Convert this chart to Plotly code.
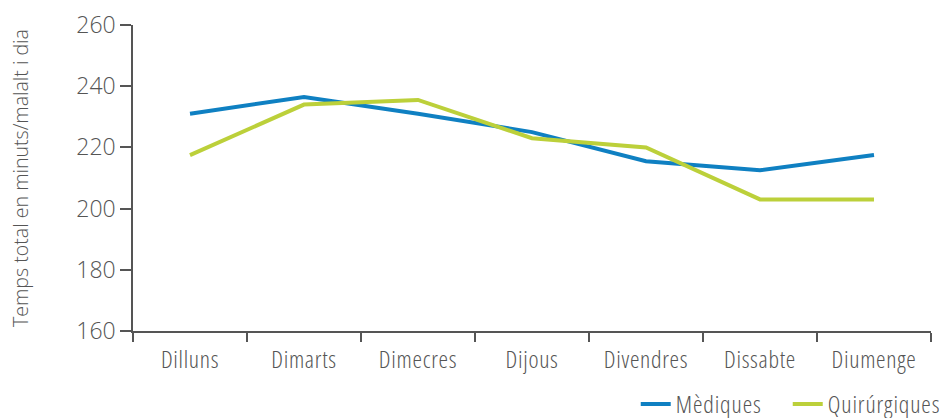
import plotly.graph_objects as go

days = ["Dilluns", "Dimarts", "Dimecres", "Dijous", "Divendres", "Dissabte", "Diumenge"]
mediques = [231, 236.5, 231, 225, 215.5, 212.5, 217.5]
quirurgiques = [217.5, 234, 235.5, 223, 220, 203, 203]
y_ticks = [160, 180, 200, 220, 240, 260]

FONT = "Open Sans, sans-serif"
AXIS = "#555555"
TEXT = "#555555"

fig = go.Figure()
fig.add_trace(go.Scatter(x=days, y=mediques, name="Mèdiques", mode="lines",
                         line=dict(color="#0f80c2", width=4)))
fig.add_trace(go.Scatter(x=days, y=quirurgiques, name="Quirúrgiques", mode="lines",
                         line=dict(color="#bcd03a", width=4)))

# vertical axis title
fig.add_annotation(text="Temps total en minuts/malalt i dia", textangle=-90,
                   xref="paper", yref="paper", x=-0.1416, y=0.5,
                   xanchor="center", yanchor="middle", showarrow=False,
                   font=dict(size=19.6, color=TEXT, family=FONT, weight=300))

fig.update_layout(
    width=946, height=418,
    margin=dict(l=133, r=15, t=25, b=87, autoexpand=False),
    paper_bgcolor="white", plot_bgcolor="white",
    font=dict(family=FONT, color=TEXT, size=20, weight=300),
    legend=dict(orientation="h", x=0.630, xanchor="left", y=-0.240, yanchor="middle",
                font=dict(size=24, color=TEXT, weight=300), itemwidth=30,
                entrywidth=107, entrywidthmode="pixels", bgcolor="rgba(0,0,0,0)"),
    xaxis=dict(type="category", range=[-0.5, 6.5], showline=True, linecolor=AXIS,
               linewidth=1.5, ticks="outside", tickson="boundaries", ticklen=9,
               tickcolor=AXIS, tickwidth=1.5, showgrid=False, zeroline=False,
               tickangle=0, ticklabelstandoff=6,
               tickfont=dict(size=24, color=TEXT, weight=300)),
    yaxis=dict(range=[160, 260], tickvals=y_ticks, showline=True, linecolor=AXIS,
               linewidth=1.5, ticks="outside", ticklen=11, tickcolor=AXIS,
               tickwidth=1.5, showgrid=False, zeroline=False,
               tickfont=dict(size=23, color=TEXT, weight=300)),
)

# condensed letterforms for the labels, with a little extra tracking
post = """
function squeeze(sel, pct, spacing) {
  document.querySelectorAll(sel).forEach(function (t) {
    t.style.fontStretch = pct;
    if (spacing) { t.style.letterSpacing = spacing; }
  });
}
squeeze('.xtick text', '75%', '0.7px');
squeeze('.ytick text', '92%');
squeeze('.legendtext', '75%', '0.9px');
squeeze('.annotation-text', '100%');
"""
fig.write_html("out.html", post_script=post)
